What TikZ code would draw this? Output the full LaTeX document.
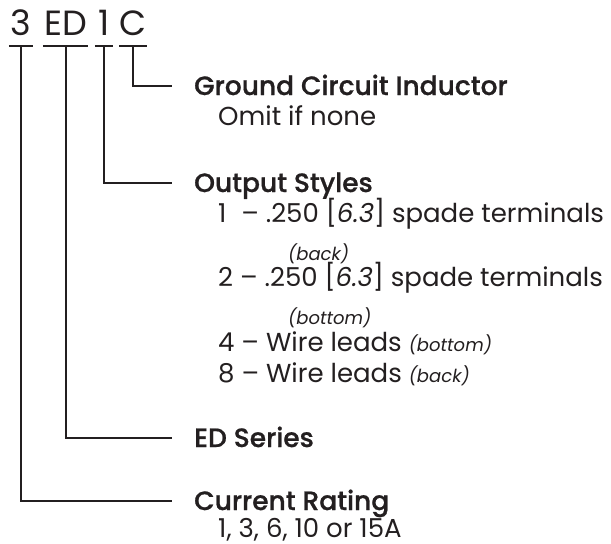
\documentclass[tikz,border=0pt]{standalone}
\usepackage{fontspec}
\setmainfont{Poppins}
\newfontfamily\medfont{Poppins Medium}[FakeBold=0.8]
\usepackage{tikz}
\usetikzlibrary{positioning,calc}
\definecolor{ink}{HTML}{231F20}
\newcommand{\smallnote}[1]{{\fontsize{18}{18}\selectfont\itshape #1}}

\begin{document}
\begin{tikzpicture}[x=1pt,y=-1pt,
  every node/.style={inner sep=0pt,text=ink},
  code/.style={font=\fontsize{35}{35}\selectfont,anchor=base,text height=22pt,text depth=0pt},
  head/.style={font=\medfont\fontsize{26.5}{26.5}\selectfont,anchor=base west,text height=19pt,text depth=0pt},
  body/.style={font=\fontsize{26}{26}\selectfont,anchor=base west},
  lead/.style={draw=ink,line width=2pt}]
\useasboundingbox (0,0) rectangle (611,544);
% part number
\node[code,minimum width=24pt] (p3) at (21,35) {3};
\node[code,minimum width=45pt] (pED) at (65.5,35) {ED};
\node[code,minimum width=18pt] (p1) at (104,35) {1};
\node[code,minimum width=26pt] (pC) at (133,35) {C};
\foreach \p in {p3,pED,p1,pC}
  \draw[lead,line width=2.4pt] ($(\p.south west)+(0,11)$) -- ($(\p.south east)+(0,11)$);
% headings
\node[head] (gci) at (194,95) {Ground Circuit Inductor};
\node[head] (out) at (194,192) {Output Styles};
\node[head] (eds) at (194,447) {ED Series};
\node[head] (cur) at (194,510) {Current Rating};
% details
\node[body] (omit) at (218,125) {Omit if none};
\node[body] (o1) at (218,222) {1\hspace{0.3em} – .250 [\textit{6.3}] spade terminals};
\node[body] (o1n) at (288,260) {\smallnote{(back)}};
\node[body] (o2) at (218,286) {2 – .250 [\textit{6.3}] spade terminals};
\node[body] (o2n) at (288,324) {\smallnote{(bottom)}};
\node[body] (o4) at (218,351) {4 – Wire leads \smallnote{(bottom)}};
\node[body] (o8) at (218,382) {8 – Wire leads \smallnote{(back)}};
\node[body,text depth=0pt] (amps) at (218,537) {1, 3, 6, 10 or 15A};
% leaders
\draw[lead,shorten >=22pt] ($(pC.south)+(0,11)$) |- (gci.west);
\draw[lead,shorten >=22pt] ($(p1.south)+(0,11)$) |- (out.west);
\draw[lead,shorten >=22pt] ($(pED.south)+(0,11)$) |- (eds.west);
\draw[lead,shorten >=22pt] ($(p3.south)+(0,11)$) |- (cur.west);
\end{tikzpicture}
\end{document}
